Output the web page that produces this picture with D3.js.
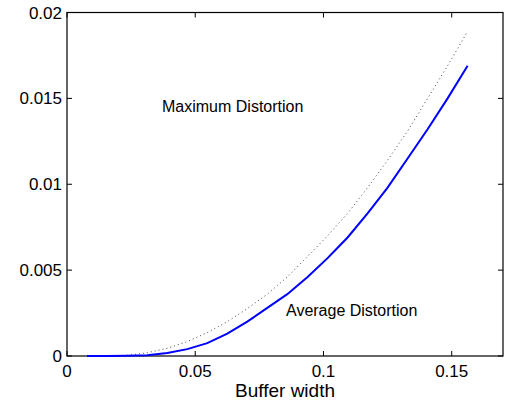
<!DOCTYPE html>
<html>
<head>
<meta charset="utf-8">
<script src="https://cdn.jsdelivr.net/npm/d3@7"></script>
<style>
  body { margin: 0; background: #fff; }
  svg { display: block; }
  text { font-family: 'Liberation Sans', Arial, sans-serif; fill: #000; }
</style>
</head>
<body>
<main></main>
<script>
// chart values
const bufferWidth = [
  0.0078, 0.0156, 0.0234, 0.0313, 0.0391, 0.0469, 0.0547, 0.0625, 0.0703, 0.0781,
  0.0859, 0.0938, 0.1016, 0.1094, 0.1172, 0.125, 0.1328, 0.1406, 0.1484, 0.1562,
];
const avgDistortion = [
  0, 0, 0.00001, 0.00004, 0.00018, 0.0004, 0.00075, 0.0013, 0.002, 0.0028,
  0.0036, 0.0046, 0.0057, 0.0069, 0.0083, 0.0098, 0.0115, 0.0132, 0.015, 0.0169,
];
const maxDistortion = [
  0, 0, 0.00004, 0.00019, 0.00045, 0.00084, 0.00136, 0.002, 0.00276, 0.0036,
  0.0046, 0.0058, 0.007, 0.0083, 0.0098, 0.0114, 0.0131, 0.015, 0.0169, 0.0189,
];
const xTicks = [0, 0.05, 0.1, 0.15];
const yTicks = [0, 0.005, 0.01, 0.015, 0.02];

const w = 512;
const h = 403;
const margin = { top: 12.5, right: 9, bottom: 47, left: 67 };

const svg = d3.select('main').append('svg').attr('width', w).attr('height', h);

const x = d3.scaleLinear().domain([0, 0.17]).range([margin.left, w - margin.right]);
const y = d3.scaleLinear().domain([0, 0.02]).range([h - margin.bottom, margin.top]);

const fmt = (d) => (d === 0 ? '0' : String(d));
const tl = 5;

// box
svg
  .append('rect')
  .attr('x', x(0))
  .attr('y', y(0.02))
  .attr('width', x(0.17) - x(0))
  .attr('height', y(0) - y(0.02))
  .attr('fill', 'none')
  .attr('stroke', '#000')
  .attr('stroke-width', 1.2);

// inward ticks on all four sides
const ax = svg.append('g').attr('stroke', '#000').attr('stroke-width', 1);
xTicks.forEach((t) => {
  ax.append('line').attr('x1', x(t)).attr('x2', x(t)).attr('y1', y(0)).attr('y2', y(0) - tl);
  ax.append('line').attr('x1', x(t)).attr('x2', x(t)).attr('y1', y(0.02)).attr('y2', y(0.02) + tl);
});
yTicks.forEach((t) => {
  ax.append('line').attr('x1', x(0)).attr('x2', x(0) + tl).attr('y1', y(t)).attr('y2', y(t));
  ax.append('line').attr('x1', x(0.17)).attr('x2', x(0.17) - tl).attr('y1', y(t)).attr('y2', y(t));
});

svg
  .selectAll('.xl')
  .data(xTicks)
  .enter()
  .append('text')
  .attr('x', (d) => x(d))
  .attr('y', y(0) + 21)
  .attr('text-anchor', 'middle')
  .style('font-size', '17px')
  .text(fmt);

svg
  .selectAll('.yl')
  .data(yTicks)
  .enter()
  .append('text')
  .attr('x', x(0) - 5)
  .attr('y', (d) => y(d) + 6)
  .attr('text-anchor', 'end')
  .style('font-size', '17px')
  .text(fmt);

svg
  .append('text')
  .attr('x', (x(0) + x(0.17)) / 2)
  .attr('y', 397)
  .attr('text-anchor', 'middle')
  .style('font-size', '19px')
  .text('Buffer width');

const line = d3
  .line()
  .x((d, i) => x(bufferWidth[i]))
  .y((d) => y(d));

svg
  .append('path')
  .attr('d', line(maxDistortion))
  .attr('fill', 'none')
  .attr('stroke', '#444')
  .attr('stroke-width', 1)
  .attr('stroke-dasharray', '1,3');

svg
  .append('path')
  .attr('d', line(avgDistortion))
  .attr('fill', 'none')
  .attr('stroke', '#0000ff')
  .attr('stroke-width', 2);

svg
  .append('text')
  .attr('x', 162)
  .attr('y', 112)
  .style('font-size', '16px')
  .text('Maximum Distortion');

svg
  .append('text')
  .attr('x', 286)
  .attr('y', 316)
  .style('font-size', '16px')
  .text('Average Distortion');
</script>
</body>
</html>
